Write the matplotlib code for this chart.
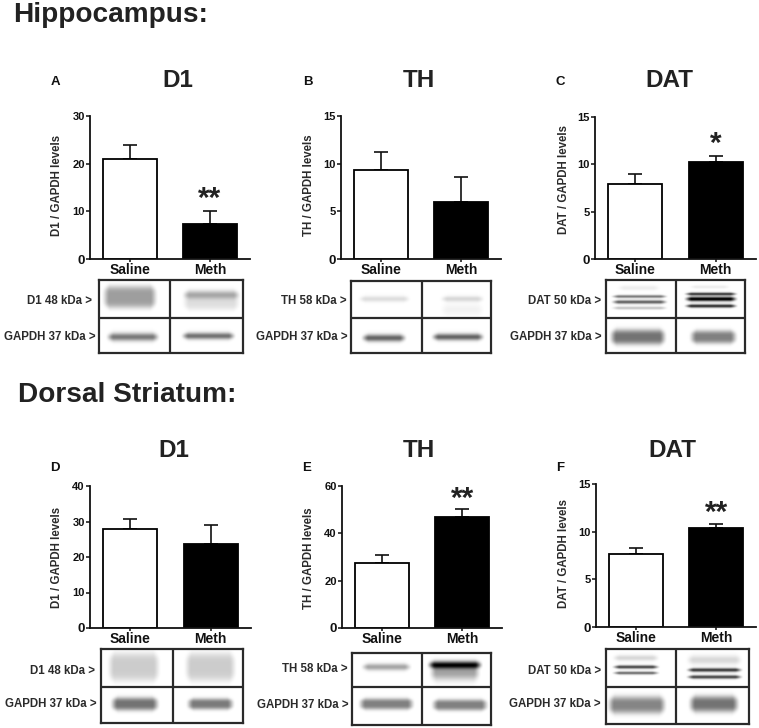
import numpy as np
import matplotlib
matplotlib.use("Agg")
import matplotlib.pyplot as plt

W, H = 759, 728
plt.rcParams['font.family'] = ['Liberation Sans', 'DejaVu Sans']
plt.rcParams['font.weight'] = 'bold'

# ---- data ----
groups = ["Saline", "Meth"]
d1_hip = [21.0, 7.3]
d1_hip_err = [2.9, 2.7]
th_hip = [9.3, 6.0]
th_hip_err = [1.9, 2.55]
dat_hip = [7.9, 10.2]
dat_hip_err = [1.05, 0.7]
d1_str = [28.0, 23.7]
d1_str_err = [2.7, 5.4]
th_str = [27.3, 46.7]
th_str_err = [3.4, 3.7]
dat_str = [7.65, 10.35]
dat_str_err = [0.65, 0.45]
yticks_d1_hip = [0, 10, 20, 30]
yticks_th_hip = [0, 5, 10, 15]
yticks_dat_hip = [0, 5, 10, 15]
yticks_d1_str = [0, 10, 20, 30, 40]
yticks_th_str = [0, 20, 40, 60]
yticks_dat_str = [0, 5, 10, 15]

# ---- layout (figure pixels) ----
def fx(x): return x / W
def fy(y): return 1 - y / H

fig = plt.figure(figsize=(W / 100, H / 100), dpi=100, facecolor='white')

def rect_axes(x0, x1, ytop, ybot):
    return fig.add_axes([fx(x0), fy(ybot), (x1 - x0) / W, (ybot - ytop) / H])

panels = [
    dict(letter='A', lx=55, ly=85, title='D1', tx=178, tb=87, vals=d1_hip, err=d1_hip_err, ticks=yticks_d1_hip,
         ax=(90, 250, 116, 259), yl='D1 / GAPDH levels', ylx=57, yly=185, star='**', sx=210, sy=193,
         blot=(99, 243, 280, 353, 170, 318),
         top='D1 48 kDa >', topx=92, topy=301, botx=96, boty=337,
         bands=[(101, 159, 297, 11, .38, 4), (181, 242, 295, 4, .22, 2), (181, 242, 300, 10, .13, 4),
                (105, 161, 337, 4, .52, 2), (180, 237, 336, 3.4, .55, 2)]),
    dict(letter='B', lx=308, ly=85, title='TH', tx=419, tb=87, vals=th_hip, err=th_hip_err, ticks=yticks_th_hip,
         ax=(341, 501, 116, 259), yl='TH / GAPDH levels', ylx=309, yly=185, star=None,
         blot=(351, 491, 281, 353, 422, 318),
         top='TH 58 kDa >', topx=347, topy=301, botx=348, boty=337,
         bands=[(357, 412, 299, 3, .13, 2), (439, 486, 299, 3, .15, 2), (439, 486, 310, 6, .05, 2),
                (360, 408, 338, 3.6, .6, 2), (430, 486, 337, 3.4, .6, 2)]),
    dict(letter='C', lx=560, ly=85, title='DAT', tx=669, tb=87, vals=dat_hip, err=dat_hip_err, ticks=yticks_dat_hip,
         ax=(595, 756, 117, 259), yl='DAT / GAPDH levels', ylx=564, yly=180, star='*', sx=716, sy=138,
         blot=(606, 745, 280, 353, 676, 318),
         top='DAT 50 kDa >', topx=601, topy=301, botx=602, boty=337,
         bands=[(610, 669, 296.5, 1.6, .5, 2), (610, 669, 302, 1.9, .6, 2), (610, 669, 308, 1.6, .22, 2),
                (616, 662, 288, 2.5, .07, 2), (683, 739, 294, 1.6, .75, 2), (683, 739, 299, 2.3, 1.0, 2),
                (683, 739, 306, 1.8, .8, 2), (688, 732, 287, 1.8, .07, 2),
                (608, 668, 337, 7.5, .55, 3), (688, 739, 337, 6.5, .5, 3)]),
    dict(letter='D', lx=55, ly=471, title='D1', tx=174, tb=457, vals=d1_str, err=d1_str_err, ticks=yticks_d1_str,
         ax=(90, 251, 486, 628), yl='D1 / GAPDH levels', ylx=57, yly=557, star=None,
         blot=(101, 243, 649, 723, 173, 687),
         top='D1 48 kDa >', topx=95, topy=671, botx=97, boty=704,
         bands=[(106, 162, 667, 14, .2, 4), (183, 238, 667, 14, .2, 4),
                (109, 161, 704, 6.5, .55, 3), (185, 236, 704, 5.5, .52, 3)]),
    dict(letter='E', lx=307, ly=471, title='TH', tx=419, tb=457, vals=th_str, err=th_str_err, ticks=yticks_th_str,
         ax=(342, 502, 486, 628), yl='TH / GAPDH levels', ylx=309, yly=558, star='**', sx=463, sy=493,
         blot=(352, 491, 653, 725, 422, 687),
         top='TH 58 kDa >', topx=348, topy=669, botx=349, boty=705,
         bands=[(360, 413, 667, 3.4, .35, 2), (426, 484, 665, 3.8, .9, 2), (428, 482, 673, 7, .35, 2),
                (357, 416, 704, 5.5, .5, 3), (430, 490, 705, 5.5, .5, 3)]),
    dict(letter='F', lx=560, ly=471, title='DAT', tx=672, tb=457, vals=dat_str, err=dat_str_err, ticks=yticks_dat_str,
         ax=(596, 756, 484, 627), yl='DAT / GAPDH levels', ylx=564, yly=553, star='**', sx=717, sy=507,
         blot=(606, 749, 649, 724, 676, 687),
         top='DAT 50 kDa >', topx=601, topy=671, botx=601, boty=704,
         bands=[(611, 661, 667, 1.8, .7, 2), (611, 661, 673, 1.6, .55, 2), (611, 661, 658, 3, .15, 2),
                (685, 744, 670, 2, .75, 2), (685, 744, 677, 1.9, .7, 2), (685, 744, 660, 4.5, .15, 2),
                (606, 668, 705, 8.5, .48, 3), (687, 741, 704, 8, .55, 3)]),
]

INK = '#111111'
TXT = '#2b2b2b'


def draw_blot(p):
    x0, x1, y0, y1, xm, ym = p['blot']
    xx, yy = np.meshgrid(np.arange(x0, x1) + .5, np.arange(y0, y1) + .5)
    dark = np.zeros_like(xx)
    for bx0, bx1, yc, sy, d, pw in p['bands']:
        edge = np.clip((xx - bx0) / 9.0, 0, 1) * np.clip((bx1 - xx) / 9.0, 0, 1)
        smooth = edge * edge * (3 - 2 * edge)
        syy = sy * (0.45 + 0.55 * np.sqrt(edge))
        dark += d * smooth * np.exp(-np.abs((yy - yc) / syy) ** pw)
    img = 1 - np.clip(dark, 0, 1)
    ax = rect_axes(x0, x1, y0, y1)
    ax.imshow(img, cmap='gray', vmin=0, vmax=1, extent=(x0, x1, y1, y0),
              interpolation='bilinear', aspect='auto')
    ax.set_xticks([])
    ax.set_yticks([])
    ax.axvline(xm, color='#2a2a2a', lw=1.6)
    ax.axhline(ym, color='#2a2a2a', lw=1.6)
    for s in ax.spines.values():
        s.set_linewidth(1.6)
        s.set_color('#2a2a2a')
    fig.text(fx(p['topx']), fy(p['topy']), p['top'], ha='right', va='center', fontsize=8.3, color=TXT)
    fig.text(fx(p['botx']), fy(p['boty']), 'GAPDH 37 kDa >', ha='right', va='center', fontsize=8.3, color=TXT)


for p in panels:
    ax = rect_axes(*p['ax'])
    xpos = np.arange(len(groups))
    ax.errorbar(xpos, p['vals'], yerr=[np.zeros(2), p['err']], fmt='none', ecolor=INK,
                elinewidth=1.2, capsize=5.2, capthick=1.2, zorder=1)
    ax.bar(xpos, p['vals'], width=0.675, color=['white', 'black'], edgecolor='black', linewidth=1.3, zorder=2)
    ax.set_xlim(-0.5, 1.5)
    ax.set_ylim(0, p['ticks'][-1])
    ax.set_xticks(xpos)
    ax.set_xticklabels(groups, fontsize=10, color=INK)
    ax.set_yticks(p['ticks'])
    ax.set_yticklabels([str(t) for t in p['ticks']], fontsize=8, color=INK)
    ax.get_yticklabels()[0].set_fontsize(9.5)
    ax.tick_params(axis='x', length=1.8, width=1.1, pad=0.8, color=INK)
    ax.tick_params(axis='y', length=3, width=1.1, pad=0.8, color=INK)
    ax.patch.set_alpha(0)
    for s in ('top', 'right'):
        ax.spines[s].set_visible(False)
    for s in ('left', 'bottom'):
        ax.spines[s].set_linewidth(1.3)
        ax.spines[s].set_color(INK)
    fig.text(fx(p['ylx']), fy(p['yly']), p['yl'], rotation=90, ha='center', va='center', fontsize=8.3, color=TXT)
    fig.text(fx(p['lx']), fy(p['ly']), p['letter'], ha='center', va='baseline', fontsize=9.5, color='#111111')
    fig.text(fx(p['tx']), fy(p['tb']), p['title'], ha='center', va='baseline', fontsize=17.5, color='#222222')
    if p['star']:
        fig.text(fx(p['sx']), fy(p['sy'] + 14), p['star'], ha='center', va='baseline', fontsize=21.5, color='#222222')
    draw_blot(p)

fig.text(fx(13), fy(22), 'Hippocampus:', ha='left', va='baseline', fontsize=20.2, color='#222222')
fig.text(fx(18), fy(402), 'Dorsal Striatum:', ha='left', va='baseline', fontsize=20.2, color='#222222')

fig.savefig('out.png', dpi=100, facecolor='white')
